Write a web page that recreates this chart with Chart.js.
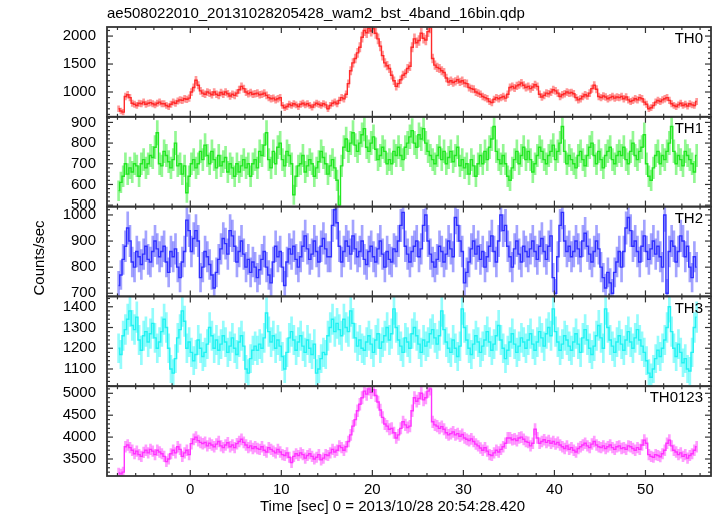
<!DOCTYPE html>
<html>
<head>
<meta charset="utf-8">
<title>ae508022010 WAM light curve</title>
<script src="https://cdn.jsdelivr.net/npm/chart.js@4.4.1/dist/chart.umd.min.js"></script>
<style>
  html, body { margin: 0; padding: 0; background: #fff; }
  #wrap { position: relative; width: 717px; height: 516px; }
</style>
</head>
<body>
<div id="wrap"><canvas id="lc" width="717" height="516"></canvas></div>
<script>
// bins of 0.25 s, first bin centre at -7.875 s
const tStart = -7.875;
const binWidth = 0.25;

const xTickLabels = [0, 10, 20, 30, 40, 50];

// counts/sec, 20 bins (5 s) per row
const th0 = [
  700, 660, 640, 920, 950, 900, 800, 780, 760, 800, 790, 820, 780, 800, 810, 790, 770, 800, 820, 790,
  790, 760, 740, 780, 820, 800, 840, 860, 850, 880, 870, 890, 1000, 1080, 1210, 1120, 1020, 980, 960, 1000,
  980, 950, 1000, 960, 940, 990, 960, 1000, 970, 930, 960, 940, 980, 1040, 1100, 1060, 1000, 970, 990, 960,
  970, 980, 950, 960, 980, 940, 900, 880, 890, 860, 880, 900, 760, 720, 740, 780, 760, 790, 770, 740,
  780, 800, 770, 790, 760, 730, 770, 800, 780, 760, 790, 770, 700, 760, 800, 820, 790, 850, 900, 880,
  960, 1150, 1380, 1520, 1600, 1700, 1800, 1980, 2100, 2060, 2140, 2090, 2130, 2050, 1950, 1820, 1650, 1520, 1470, 1420,
  1300, 1200, 1100, 1150, 1220, 1300, 1330, 1420, 1460, 1800, 1950, 1880, 1920, 2050, 1960, 1930, 2080, 2150, 1600, 1480,
  1440, 1420, 1380, 1350, 1250, 1180, 1200, 1170, 1190, 1220, 1180, 1200, 1160, 1150, 1080, 1060, 1050, 1000, 980, 960,
  920, 900, 880, 830, 810, 870, 900, 880, 900, 920, 890, 960, 1080, 1100, 1070, 1110, 1130, 1160, 1120, 1080,
  1100, 1060, 1090, 1130, 1100, 960, 910, 940, 980, 970, 1000, 1040, 1020, 980, 920, 950, 970, 1000, 980, 990,
  970, 900, 860, 880, 920, 950, 930, 980, 1060, 1120, 1050, 920, 900, 930, 910, 880, 900, 920, 890, 910,
  900, 920, 880, 910, 860, 830, 850, 880, 860, 900, 880, 820, 780, 700, 720, 760, 820, 850, 830, 860,
  880, 900, 850, 790, 760, 740, 770, 800, 760, 780, 750, 790, 770, 760, 830
];
const th1 = [
  570, 610, 640, 700, 650, 680, 660, 700, 690, 640, 700, 720, 680, 700, 740, 730, 780, 850, 700, 690,
  760, 740, 710, 680, 720, 800, 690, 700, 650, 690, 560, 640, 700, 720, 680, 700, 760, 720, 790, 740,
  700, 760, 720, 680, 740, 690, 710, 730, 660, 700, 680, 640, 700, 660, 690, 720, 680, 700, 640, 700,
  720, 680, 760, 740, 790, 850, 720, 680, 760, 700, 780, 800, 720, 690, 760, 740, 700, 550, 640, 690,
  700, 740, 660, 690, 720, 700, 640, 680, 710, 760, 730, 700, 650, 690, 720, 680, 620, 500, 690, 780,
  820, 760, 800, 850, 790, 760, 800, 840, 870, 780, 760, 800, 830, 770, 720, 740, 780, 760, 700, 720,
  700, 760, 740, 780, 740, 720, 780, 800, 830, 860, 800, 780, 840, 820, 870, 800, 760, 740, 720, 700,
  740, 780, 720, 760, 700, 730, 760, 710, 740, 780, 690, 720, 680, 700, 650, 720, 690, 640, 700, 740,
  700, 760, 720, 780, 820, 880, 760, 720, 700, 740, 700, 640, 620, 680, 720, 760, 700, 740, 780, 720,
  760, 720, 660, 700, 740, 780, 760, 720, 700, 740, 760, 790, 720, 760, 800, 880, 760, 700, 740, 720,
  700, 680, 740, 760, 720, 690, 740, 780, 800, 740, 700, 760, 720, 680, 740, 760, 780, 720, 700, 740,
  760, 740, 780, 720, 700, 760, 800, 740, 720, 760, 780, 840, 700, 640, 620, 680, 740, 760, 700, 740,
  720, 760, 800, 880, 760, 700, 740, 720, 690, 760, 740, 720, 700, 660, 740
];
const th2 = [
  730, 770, 830, 880, 950, 900, 820, 800, 860, 840, 810, 850, 880, 830, 820, 860, 900, 870, 840, 860,
  880, 820, 780, 860, 840, 870, 800, 760, 820, 860, 980, 940, 860, 910, 940, 900, 760, 800, 860, 840,
  810, 770, 720, 780, 830, 870, 910, 890, 850, 940, 920, 880, 820, 860, 900, 850, 800, 830, 780, 820,
  800, 760, 790, 830, 860, 800, 770, 740, 820, 880, 840, 860, 800, 730, 820, 870, 850, 880, 830, 800,
  840, 880, 920, 870, 830, 850, 900, 860, 820, 880, 910, 870, 840, 840, 960, 1020, 970, 880, 820, 860,
  900, 880, 850, 920, 870, 840, 860, 900, 830, 810, 860, 880, 840, 820, 870, 900, 850, 800, 860, 830,
  820, 870, 860, 900, 960, 1010, 880, 850, 820, 860, 880, 900, 840, 870, 960, 1000, 900, 850, 820, 800,
  830, 880, 860, 820, 850, 900, 870, 840, 990, 960, 900, 860, 740, 780, 820, 870, 900, 850, 880, 830,
  860, 800, 840, 880, 920, 860, 820, 900, 1000, 940, 960, 880, 840, 800, 870, 900, 850, 820, 880, 860,
  840, 870, 900, 860, 830, 880, 910, 860, 830, 880, 920, 760, 700, 840, 960, 1010, 900, 860, 880, 840,
  860, 900, 870, 840, 900, 930, 880, 850, 820, 860, 900, 870, 800, 760, 720, 780, 740, 700, 780, 820,
  860, 800, 860, 950, 990, 940, 880, 900, 860, 820, 880, 920, 860, 830, 870, 900, 850, 880, 840, 800,
  1000, 700, 860, 900, 880, 820, 860, 920, 900, 840, 880, 800, 760, 840, 800
];
const th3 = [
  1200, 1170, 1260, 1290, 1340, 1380, 1310, 1290, 1350, 1240, 1190, 1260, 1280, 1230, 1270, 1320, 1250, 1200, 1230, 1280,
  1340, 1300, 1200, 1100, 1080, 1150, 1250, 1290, 1380, 1330, 1200, 1230, 1180, 1140, 1170, 1240, 1200, 1160, 1180, 1220,
  1300, 1260, 1200, 1240, 1190, 1220, 1260, 1230, 1180, 1210, 1250, 1200, 1170, 1230, 1260, 1210, 1100, 1080, 1150, 1190,
  1210, 1190, 1220, 1200, 1250, 1370, 1280, 1230, 1260, 1200, 1240, 1210, 1160, 1100, 1180, 1250, 1280, 1240, 1190, 1230,
  1260, 1210, 1180, 1240, 1200, 1170, 1220, 1080, 1100, 1150, 1180, 1170, 1260, 1300, 1340, 1280, 1320, 1290, 1260, 1340,
  1300, 1280, 1380, 1320, 1250, 1210, 1240, 1200, 1190, 1230, 1260, 1220, 1180, 1240, 1270, 1200, 1230, 1260, 1300, 1240,
  1270, 1390, 1300, 1240, 1210, 1180, 1250, 1230, 1200, 1270, 1300, 1260, 1220, 1180, 1240, 1210, 1230, 1270, 1290, 1250,
  1220, 1260, 1380, 1290, 1230, 1200, 1180, 1240, 1200, 1160, 1210, 1390, 1300, 1240, 1200, 1170, 1220, 1260, 1230, 1180,
  1210, 1240, 1280, 1230, 1190, 1220, 1260, 1310, 1240, 1200, 1150, 1190, 1230, 1270, 1220, 1180, 1210, 1250, 1230, 1200,
  1240, 1270, 1220, 1190, 1230, 1280, 1250, 1210, 1270, 1300, 1260, 1390, 1280, 1230, 1190, 1220, 1260, 1240, 1210, 1190,
  1230, 1270, 1220, 1180, 1250, 1290, 1240, 1200, 1170, 1210, 1260, 1310, 1250, 1200, 1390, 1300, 1240, 1210, 1180, 1230,
  1260, 1220, 1190, 1240, 1280, 1230, 1200, 1250, 1290, 1240, 1210, 1180, 1140, 1080, 1060, 1100, 1150, 1190, 1160, 1200,
  1240, 1300, 1400, 1280, 1200, 1160, 1220, 1180, 1130, 1150, 1100, 1090, 1180, 1300, 1350
];
const th0123 = [
  3180, 3160, 3200, 3780, 3820, 3760, 3700, 3620, 3680, 3600, 3560, 3650, 3700, 3640, 3720, 3680, 3600, 3700, 3660, 3620,
  3560, 3440, 3500, 3620, 3700, 3640, 3780, 3720, 3560, 3640, 3700, 3600, 3850, 3950, 4000, 3920, 3880, 3850, 3880, 3800,
  3860, 3820, 3780, 3840, 3900, 3800, 3760, 3820, 3870, 3780, 3820, 3760, 3850, 3900, 3950, 3880, 3820, 3760, 3800, 3740,
  3780, 3740, 3720, 3780, 3700, 3660, 3760, 3720, 3680, 3640, 3720, 3660, 3600, 3580, 3640, 3540, 3420, 3560, 3620, 3580,
  3640, 3600, 3520, 3580, 3620, 3560, 3500, 3540, 3600, 3480, 3520, 3600, 3580, 3640, 3720, 3660, 3700, 3800, 3760, 3700,
  3780, 3900, 4050, 4250, 4400, 4600, 4750, 4900, 5050, 4980, 5100, 5020, 5080, 4950, 4800, 4620, 4450, 4300, 4250, 4180,
  4200, 4100, 3980, 4050, 4200, 4350, 4280, 4220, 4250, 4600, 4900, 4820, 4880, 5000, 4850, 4900, 5050, 5100, 4350, 4280,
  4250, 4200, 4240, 4180, 4100, 4050, 4080, 4120, 4050, 4080, 4020, 4060, 3980, 3950, 3920, 3960, 3900, 3840, 3800, 3750,
  3700, 3760, 3680, 3600, 3580, 3640, 3700, 3660, 3720, 3780, 3860, 3980, 3980, 3940, 3960, 3920, 3980, 4000, 3950, 3900,
  3880, 3800, 3860, 4180, 3980, 3860, 3900, 3940, 3880, 3920, 3860, 3900, 3840, 3880, 3820, 3780, 3740, 3800, 3720, 3760,
  3700, 3660, 3740, 3780, 3820, 3860, 3800, 3760, 3840, 3900, 3820, 3780, 3760, 3800, 3740, 3780, 3820, 3760, 3720, 3780,
  3800, 3740, 3760, 3720, 3800, 3780, 3740, 3700, 3760, 3720, 3820, 3930, 3860, 3600, 3560, 3540, 3600, 3580, 3550, 3620,
  3700, 3860, 3930, 3800, 3700, 3660, 3600, 3640, 3560, 3600, 3520, 3580, 3620, 3700, 3780
];

const th0Ticks = [1000, 1500, 2000];
const th1Ticks = [500, 600, 700, 800, 900];
const th2Ticks = [700, 800, 900, 1000];
const th3Ticks = [1100, 1200, 1300, 1400];
const th0123Ticks = [3500, 4000, 4500, 5000];

// panels listed bottom first: the last left axis of a stack is laid out on top
const panels = [
  { id: 'y4', name: 'TH0123', values: th0123, ticks: th0123Ticks, min: 3112, max: 5162, minor: 100, line: '#ff33ff', err: 'rgba(255,60,255,0.5)' },
  { id: 'y3', name: 'TH3', values: th3, ticks: th3Ticks, min: 1017, max: 1450, minor: 20, line: '#22f2f2', err: 'rgba(40,250,250,0.5)' },
  { id: 'y2', name: 'TH2', values: th2, ticks: th2Ticks, min: 688, max: 1032, minor: 20, line: '#3030ff', err: 'rgba(50,50,255,0.45)' },
  { id: 'y1', name: 'TH1', values: th1, ticks: th1Ticks, min: 493, max: 927, minor: 20, line: '#22e622', err: 'rgba(40,240,40,0.5)' },
  { id: 'y0', name: 'TH0', values: th0, ticks: th0Ticks, min: 557, max: 2162, minor: 100, line: '#ff2a2a', err: 'rgba(255,50,50,0.5)' }
];

const FONT = '"Liberation Sans", Arial, Helvetica, sans-serif';

const datasets = [];
panels.forEach(p => {
  const pts = p.values.map((v, i) => ({ x: tStart + i * binWidth, y: v }));
  // Poisson error of a rate in a 0.25 s bin
  const bars = p.values.map((v, i) => {
    const e = Math.sqrt(v / binWidth);
    return { x: tStart + i * binWidth, y: [v - e, v + e] };
  });
  datasets.push({
    type: 'bar', data: bars, yAxisID: p.id, xAxisID: 'x',
    backgroundColor: p.err, borderWidth: 0, barThickness: 2, grouped: false, order: 2
  });
  datasets.push({
    type: 'line', data: pts, yAxisID: p.id, xAxisID: 'x',
    borderColor: p.line, borderWidth: 1.4, stepped: 'middle', pointRadius: 0, fill: false, order: 1
  });
});

const scales = {
  x: {
    type: 'linear', position: 'bottom', min: -9.15, max: 57.2, offset: false,
    grid: { display: false, drawTicks: false }, border: { display: false },
    afterBuildTicks: s => { s.ticks = xTickLabels.map(v => ({ value: v })); },
    afterFit: s => { s.height = 40; },
    ticks: { color: '#000', padding: 5, autoSkip: false, maxRotation: 0,
      font: { family: FONT, size: 15 }, callback: v => String(v) }
  }
};
panels.forEach(p => {
  scales[p.id] = {
    type: 'linear', position: 'left', stack: 'lc', stackWeight: 1,
    min: p.min, max: p.max,
    grid: { display: false, drawTicks: false }, border: { display: false },
    afterBuildTicks: s => { s.ticks = p.ticks.map(v => ({ value: v })); },
    afterFit: s => { s.width = 107; },
    ticks: { color: '#000', padding: 11, autoSkip: false,
      font: { family: FONT, size: 15 }, callback: v => String(v) }
  };
});

// keep each series inside its own panel
const panelClip = {
  id: 'panelClip',
  beforeDatasetDraw(chart, args) {
    const ys = args.meta.yScale, a = chart.chartArea, ctx = chart.ctx;
    ctx.save();
    ctx.beginPath();
    ctx.rect(a.left, ys.top, a.right - a.left, ys.bottom - ys.top);
    ctx.clip();
  },
  afterDatasetDraw(chart) {
    chart.ctx.restore();
  }
};

const frames = {
  id: 'frames',
  afterDraw(chart) {
    const { ctx, chartArea: a, scales: sc } = chart;
    const xs = sc.x;
    ctx.save();
    const seg = (x1, y1, x2, y2) => { ctx.beginPath(); ctx.moveTo(x1, y1); ctx.lineTo(x2, y2); ctx.stroke(); };
    panels.forEach(p => {
      const ys = sc[p.id];
      ctx.strokeStyle = '#333';
      ctx.lineWidth = 1.2;
      for (let t = -8; t <= 56; t += 2) {
        const px = xs.getPixelForValue(t);
        const len = t % 10 === 0 ? 6 : 3;
        seg(px, ys.top, px, ys.top + len);
        seg(px, ys.bottom, px, ys.bottom - len);
      }
      for (let v = Math.ceil(p.min / p.minor) * p.minor; v <= p.max; v += p.minor) {
        const py = ys.getPixelForValue(v);
        const len = p.ticks.includes(v) ? 6 : 3;
        seg(a.left, py, a.left + len, py);
        seg(a.right, py, a.right - len, py);
      }
      ctx.lineWidth = 1.8;
      ctx.strokeRect(a.left, ys.top, a.right - a.left, ys.bottom - ys.top);
      ctx.fillStyle = '#000';
      ctx.font = '15px ' + FONT;
      ctx.textAlign = 'right';
      ctx.textBaseline = 'middle';
      ctx.fillText(p.name, a.right - 8, ys.top + 12);
    });
    ctx.fillStyle = '#000';
    ctx.font = '15px ' + FONT;
    ctx.textAlign = 'left';
    ctx.textBaseline = 'middle';
    ctx.fillText('ae508022010_20131028205428_wam2_bst_4band_16bin.qdp', 107, 14);
    ctx.fillText('Time [sec] 0 = 2013/10/28 20:54:28.420', 260, 507);
    ctx.save();
    ctx.translate(40, 258);
    ctx.rotate(-Math.PI / 2);
    ctx.textAlign = 'center';
    ctx.fillText('Counts/sec', 0, 0);
    ctx.restore();
    ctx.restore();
  }
};

new Chart(document.getElementById('lc'), {
  type: 'line',
  data: { datasets },
  options: {
    responsive: false,
    animation: false,
    devicePixelRatio: 1,
    layout: { padding: { left: 0, right: 6, top: 27, bottom: 0 } },
    plugins: { legend: { display: false }, tooltip: { enabled: false }, title: { display: false } },
    scales
  },
  plugins: [panelClip, frames]
});
</script>
</body>
</html>
